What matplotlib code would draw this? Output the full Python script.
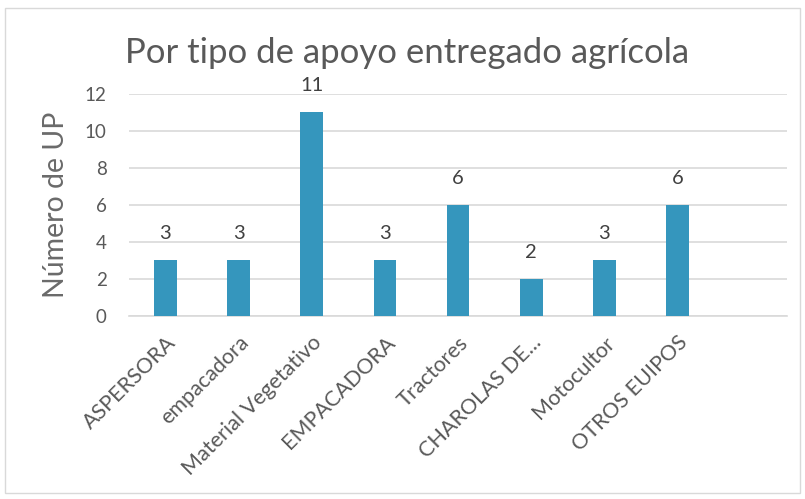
import matplotlib.pyplot as plt
from matplotlib.patches import Rectangle

plt.rcParams['font.family'] = ['Lato', 'DejaVu Sans']

# data
categorias = ['ASPERSORA', 'empacadora', 'Material Vegetativo', 'EMPACADORA',
              'Tractores', 'CHAROLAS DE...', 'Motocultor', 'OTROS EUIPOS', '']
valores = [3, 3, 11, 3, 6, 2, 3, 6, None]

gris = '#595959'
azul = '#3596BD'

fig = plt.figure(figsize=(8.05, 4.99), dpi=100)
fig.patches.append(Rectangle((0.006, 0.012), 0.988, 0.972, transform=fig.transFigure,
                             fill=False, edgecolor='#D9D9D9', linewidth=1))
ax = fig.add_axes([0.160, 0.367, 0.818, 0.445])

x = list(range(len(categorias)))
vals = [v if v is not None else 0 for v in valores]
ax.bar(x, vals, width=0.31, color=azul, zorder=3)
for xi, v in zip(x, valores):
    if v is not None:
        ax.annotate(str(v), (xi, v), xytext=(0, 13), textcoords='offset points',
                    ha='center', va='bottom', fontsize=14.5, color='#404040')

ax.set_xlim(-0.5, len(categorias) - 0.5)
ax.set_ylim(0, 12)
ax.set_yticks(range(0, 13, 2))
ax.yaxis.grid(True, color='#D9D9D9', linewidth=1.2, zorder=0)
for s in ['top', 'right', 'left']:
    ax.spines[s].set_visible(False)
ax.spines['bottom'].set_color('#D9D9D9')
ax.spines['bottom'].set_linewidth(1.2)
ax.tick_params(axis='both', length=0, colors=gris)
ax.tick_params(axis='y', pad=16, labelsize=13.5)
ax.tick_params(axis='x', pad=12, labelsize=15.5)
ax.set_xticks(x)
ax.set_xticklabels(categorias, rotation=45, ha='right', rotation_mode='anchor')
ax.set_ylabel('Número de UP', fontsize=20.5, color='#6a6a6a', labelpad=11)

fig.text(0.155, 0.894, 'Por tipo de apoyo entregado agrícola', fontsize=25, color=gris,
         ha='left', va='center')

fig.savefig('out.png', dpi=100)
